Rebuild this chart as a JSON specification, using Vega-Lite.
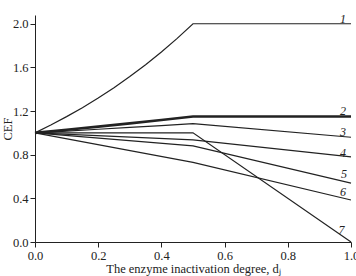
{
  "$schema": "https://vega.github.io/schema/vega-lite/v6.json",
  "autosize": {"type": "none"},
  "padding": {"left": 35, "top": 15, "right": 5, "bottom": 34},
  "width": 316,
  "height": 227,
  "background": "white",
  "config": {
    "view": {"stroke": null},
    "font": "Liberation Serif",
    "axis": {"domainColor": "#222", "tickColor": "#222", "labelColor": "#222", "titleColor": "#222", "grid": false, "labelFont": "Liberation Serif", "titleFont": "Liberation Serif", "labelFontSize": 12.5, "titleFontSize": 12.5, "titleFontWeight": "normal"}
  },
  "layer": [
    {
      "data": {"values": [
        {"series": "1", "d": 0, "cef": 1.0},
        {"series": "1", "d": 0.05, "cef": 1.072},
        {"series": "1", "d": 0.1, "cef": 1.149},
        {"series": "1", "d": 0.15, "cef": 1.231},
        {"series": "1", "d": 0.2, "cef": 1.32},
        {"series": "1", "d": 0.25, "cef": 1.414},
        {"series": "1", "d": 0.3, "cef": 1.516},
        {"series": "1", "d": 0.35, "cef": 1.625},
        {"series": "1", "d": 0.4, "cef": 1.741},
        {"series": "1", "d": 0.45, "cef": 1.866},
        {"series": "1", "d": 0.5, "cef": 2.0},
        {"series": "1", "d": 1.0, "cef": 2.0},
        {"series": "2", "d": 0, "cef": 1.0},
        {"series": "2", "d": 0.1, "cef": 1.028},
        {"series": "2", "d": 0.2, "cef": 1.057},
        {"series": "2", "d": 0.3, "cef": 1.087},
        {"series": "2", "d": 0.4, "cef": 1.118},
        {"series": "2", "d": 0.5, "cef": 1.15},
        {"series": "2", "d": 1.0, "cef": 1.15},
        {"series": "3", "d": 0, "cef": 1.0},
        {"series": "3", "d": 0.1, "cef": 1.016},
        {"series": "3", "d": 0.2, "cef": 1.033},
        {"series": "3", "d": 0.3, "cef": 1.05},
        {"series": "3", "d": 0.4, "cef": 1.067},
        {"series": "3", "d": 0.5, "cef": 1.085},
        {"series": "3", "d": 1.0, "cef": 0.96},
        {"series": "4", "d": 0, "cef": 1.0},
        {"series": "4", "d": 0.5, "cef": 0.935},
        {"series": "4", "d": 1.0, "cef": 0.78},
        {"series": "5", "d": 0, "cef": 1.0},
        {"series": "5", "d": 0.5, "cef": 0.88},
        {"series": "5", "d": 1.0, "cef": 0.54},
        {"series": "6", "d": 0, "cef": 1.0},
        {"series": "6", "d": 0.5, "cef": 0.73},
        {"series": "6", "d": 1.0, "cef": 0.385},
        {"series": "7", "d": 0, "cef": 1.0},
        {"series": "7", "d": 0.5, "cef": 1.0},
        {"series": "7", "d": 1.0, "cef": 0.0}
      ]},
      "mark": {"type": "line", "color": "#222", "clip": false},
      "encoding": {
        "x": {"field": "d", "type": "quantitative", "scale": {"domain": [0, 1], "nice": false},
              "axis": {"title": "The enzyme inactivation degree, dⱼ", "values": [0,0.05,0.1,0.15,0.2,0.25,0.3,0.35,0.4,0.45,0.5,0.55,0.6,0.65,0.7,0.75,0.8,0.85,0.9,0.95,1.0],
                       "labelExpr": "abs(datum.value*5 - round(datum.value*5)) < 0.001 ? format(datum.value, '.1f') : ''",
                       "tickSize": {"condition": {"test": "abs(datum.value*5 - round(datum.value*5)) < 0.001", "value": 5}, "value": 3},
                       "labelFlush": false, "labelOverlap": false, "titlePadding": 1}},
        "y": {"field": "cef", "type": "quantitative", "scale": {"domain": [0, 2.08], "nice": false},
              "axis": {"title": "CEF", "values": [0,0.2,0.4,0.6,0.8,1.0,1.2,1.4,1.6,1.8,2.0],
                       "labelExpr": "abs(datum.value*2.5 - round(datum.value*2.5)) < 0.001 ? format(datum.value, '.1f') : ''",
                       "tickSize": {"condition": {"test": "abs(datum.value*2.5 - round(datum.value*2.5)) < 0.001", "value": 5}, "value": 3},
                       "labelOverlap": false, "titlePadding": -2}},
        "detail": {"field": "series"},
        "strokeWidth": {"condition": {"test": "datum.series == '2'", "value": 2.6}, "value": 1.2}
      }
    },
    {
      "data": {"values": [
        {"label": "1", "d": 0.975, "cef": 2.04},
        {"label": "2", "d": 0.975, "cef": 1.2},
        {"label": "3", "d": 0.975, "cef": 1.01},
        {"label": "4", "d": 0.975, "cef": 0.82},
        {"label": "5", "d": 0.978, "cef": 0.62},
        {"label": "6", "d": 0.975, "cef": 0.46},
        {"label": "7", "d": 0.97, "cef": 0.11}
      ]},
      "mark": {"type": "text", "font": "Liberation Serif", "fontStyle": "italic", "fontSize": 12, "color": "#222"},
      "encoding": {
        "x": {"field": "d", "type": "quantitative"},
        "y": {"field": "cef", "type": "quantitative"},
        "text": {"field": "label"}
      }
    }
  ]
}
